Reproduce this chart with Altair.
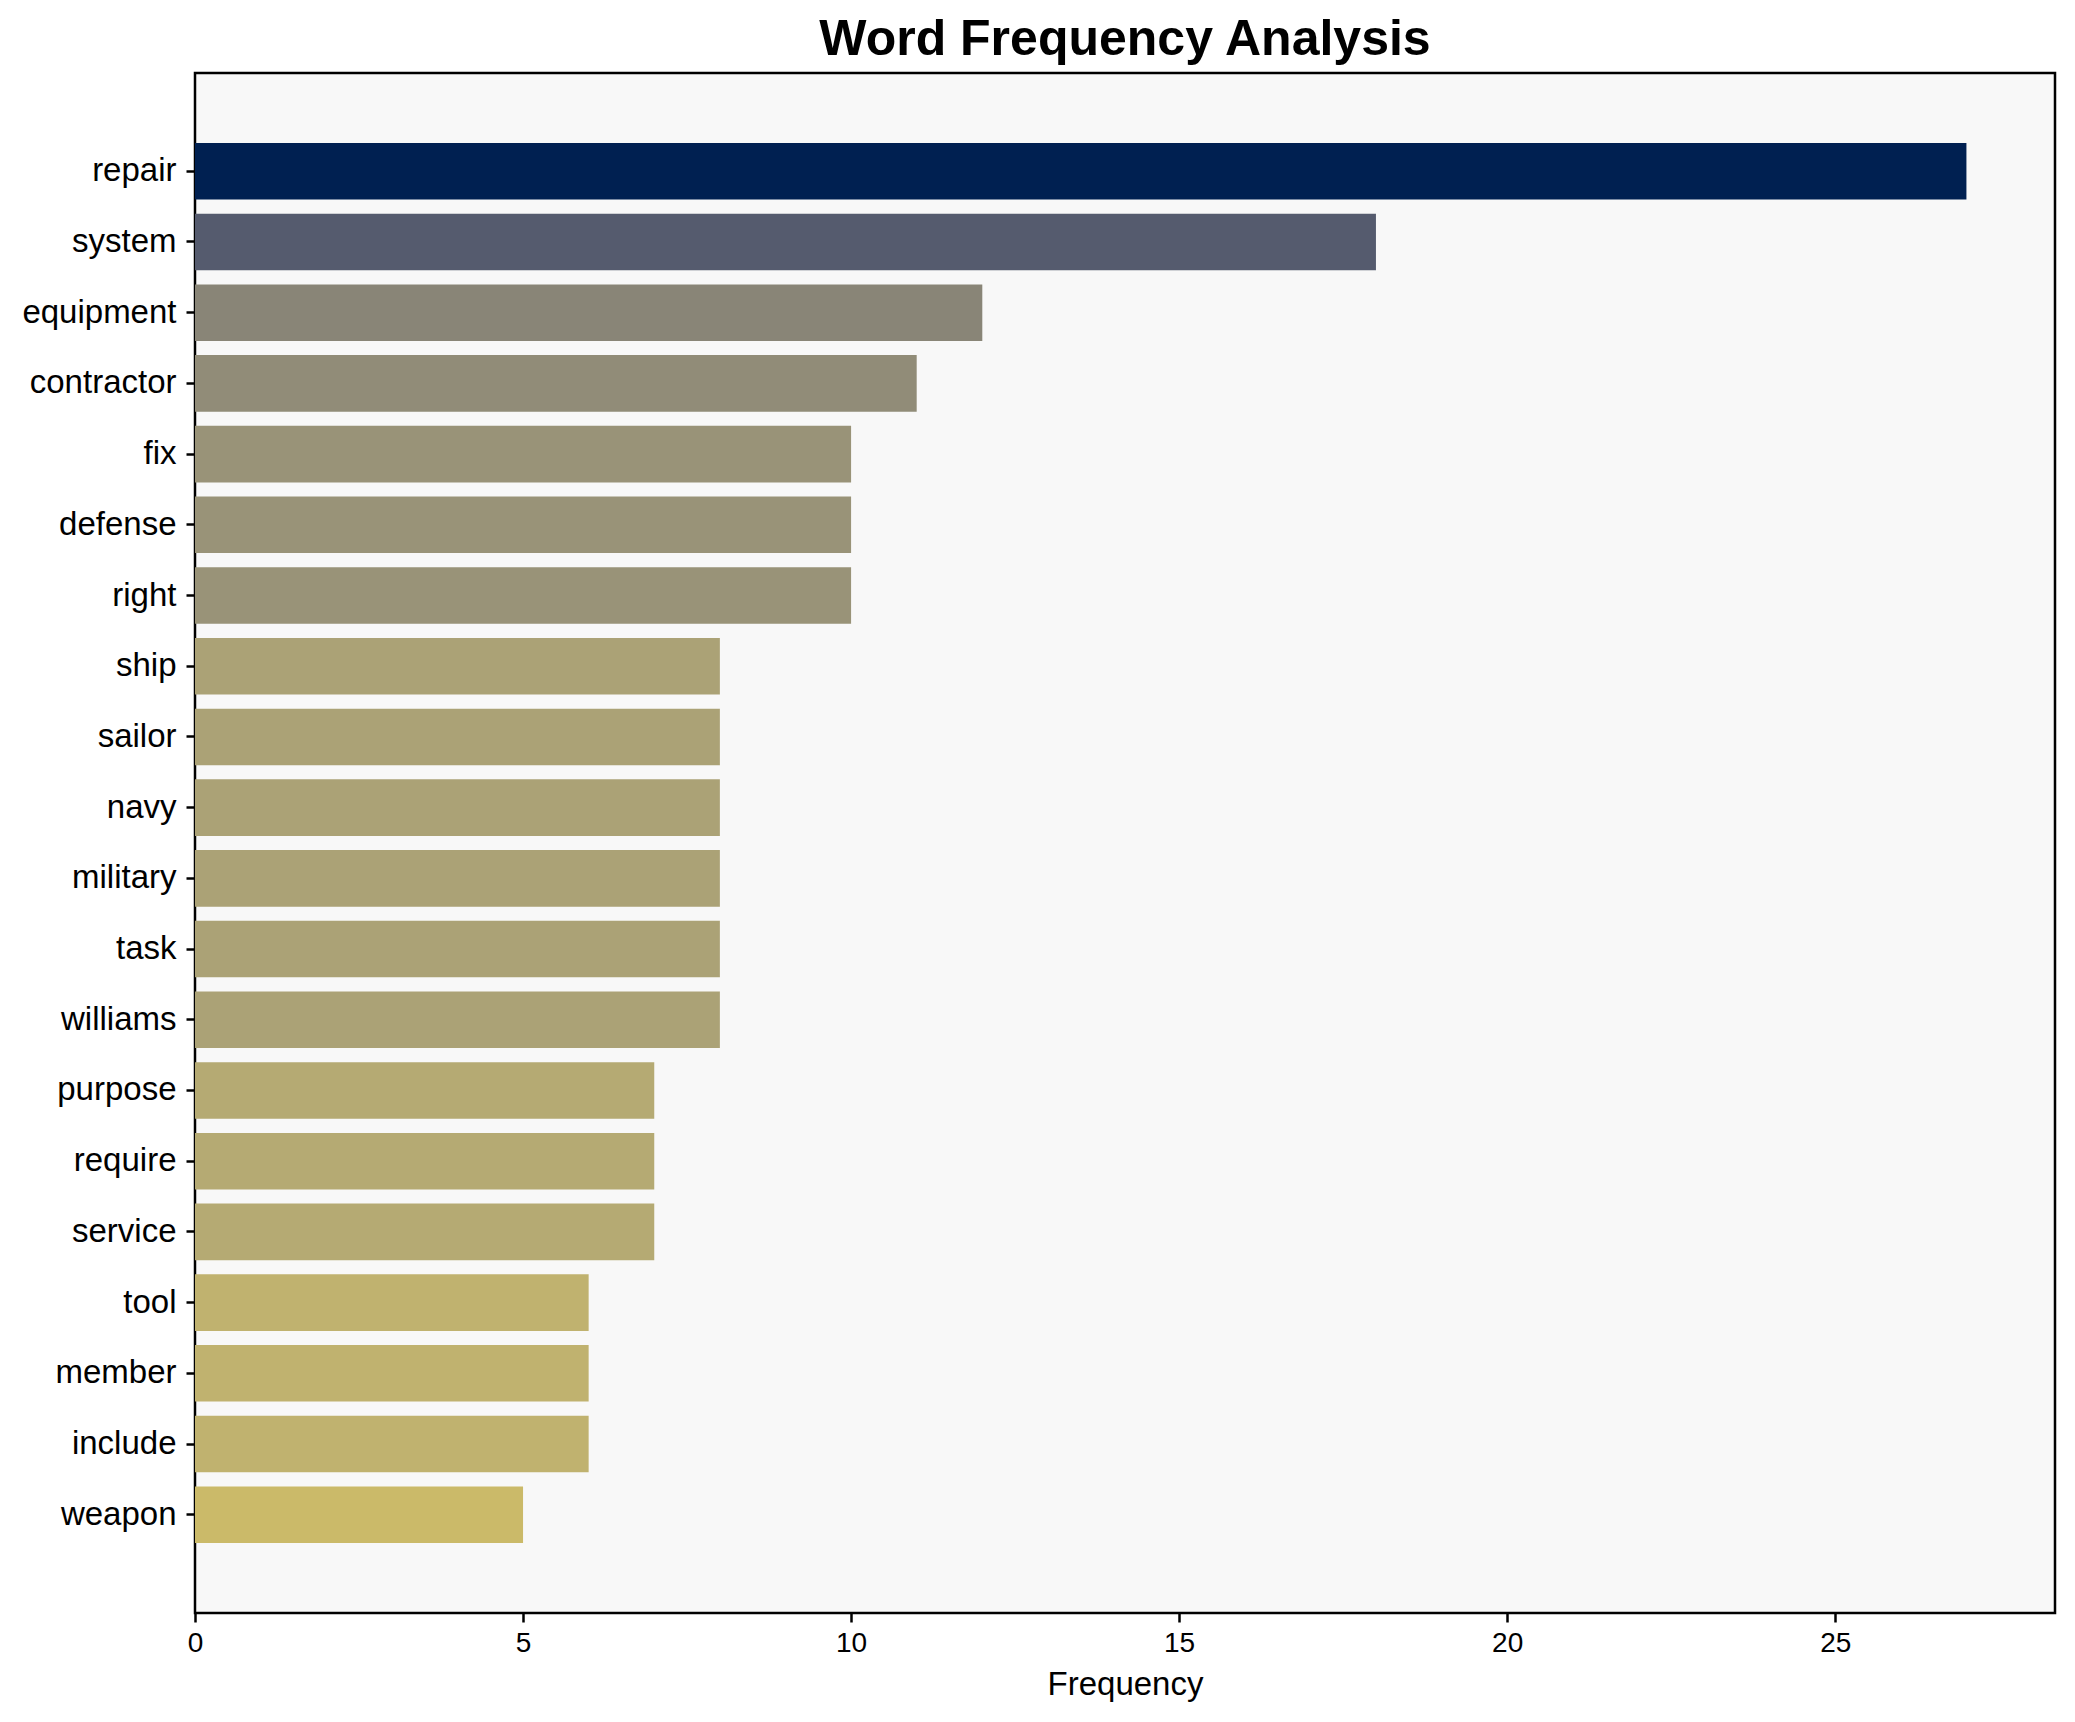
import altair as alt
import pandas as pd

words = ["repair", "system", "equipment", "contractor", "fix", "defense", "right",
         "ship", "sailor", "navy", "military", "task", "williams",
         "purpose", "require", "service", "tool", "member", "include", "weapon"]
freqs = [27, 18, 12, 11, 10, 10, 10, 8, 8, 8, 8, 8, 8, 7, 7, 7, 6, 6, 6, 5]
x_ticks = [0, 5, 10, 15, 20, 25]

df = pd.DataFrame({"word": words, "frequency": freqs})

FONT = "Liberation Sans"

chart = alt.Chart(df).mark_bar().encode(
    x=alt.X("frequency:Q",
            scale=alt.Scale(domain=[0, 28.35], nice=False, zero=True),
            axis=alt.Axis(title="Frequency", values=x_ticks, grid=False,
                          tickSize=9, tickWidth=2.5, tickColor="black",
                          domain=False, labelFontSize=28, titleFontSize=33,
                          labelColor="black", titleColor="black",
                          titleFontWeight="normal", labelPadding=7, titlePadding=11,
                          labelFont=FONT, titleFont=FONT, labelFlush=False)),
    y=alt.Y("word:N", sort=words,
            scale=alt.Scale(paddingInner=0.2, paddingOuter=0.99),
            axis=alt.Axis(title=None, tickSize=9, tickWidth=2.5, tickColor="black",
                          domain=False, labelFontSize=33, labelColor="black",
                          labelPadding=10, labelFont=FONT)),
    color=alt.Color("frequency:Q",
                    scale=alt.Scale(scheme="cividis", domain=[0, 27], reverse=True),
                    legend=None),
).properties(
    width=1860,
    height=1540,
    title=alt.TitleParams("Word Frequency Analysis", fontSize=50, font=FONT,
                          fontWeight="bold", color="black", anchor="middle",
                          offset=8),
    padding={"left": 13, "top": 7, "right": 10, "bottom": 10},
    background="white",
).configure_view(
    fill="#f8f8f8", stroke="black", strokeWidth=2.5
)

chart.save("out.html", embed_options={"renderer": "svg", "actions": False})
